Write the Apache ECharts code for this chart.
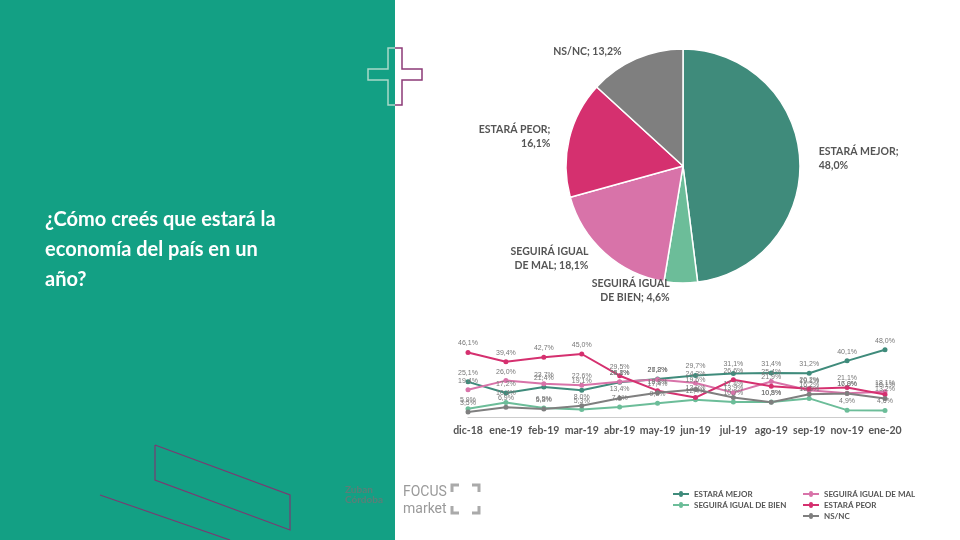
<!DOCTYPE html>
<html>
<head>
<meta charset="utf-8">
<script src="https://cdn.jsdelivr.net/npm/echarts@6/dist/echarts.min.js"></script>
<style>body{margin:0}#main{width:960px;height:540px}</style>
</head>
<body>
<div id="main"></div>
<script>
var pieNames = ['ESTARÁ MEJOR', 'SEGUIRÁ IGUAL DE BIEN', 'SEGUIRÁ IGUAL DE MAL', 'ESTARÁ PEOR', 'NS/NC'];
var pieLabels = ['ESTARÁ MEJOR;\n48,0%', 'SEGUIRÁ IGUAL\nDE BIEN; 4,6%', 'SEGUIRÁ IGUAL\nDE MAL; 18,1%', 'ESTARÁ PEOR;\n16,1%', 'NS/NC; 13,2%'];
var pieValues = [48.0, 4.6, 18.1, 16.1, 13.2];
var colors = ['#3f8b7b', '#6cbd99', '#d873a9', '#d5306f', '#7f7f7f'];

var months = ['dic-18', 'ene-19', 'feb-19', 'mar-19', 'abr-19', 'may-19', 'jun-19', 'jul-19', 'ago-19', 'sep-19', 'nov-19', 'ene-20'];
var mejor = [25.1, 17.2, 21.4, 19.1, 24.8, 27.2, 29.7, 31.1, 31.4, 31.2, 40.1, 48.0];
var igualBien = [5.9, 10.4, 6.5, 5.3, 7.1, 9.8, 12.4, 10.7, 10.8, 13.3, 4.9, 4.6];
var igualMal = [19.4, 26.0, 23.7, 22.6, 25.1, 26.8, 24.3, 17.4, 25.4, 19.1, 17.0, 18.1];
var peor = [46.1, 39.4, 42.7, 45.0, 29.5, 18.8, 13.9, 26.6, 21.9, 20.2, 21.1, 16.1];
var nsnc = [3.5, 6.9, 5.8, 8.0, 13.4, 17.4, 19.6, 13.9, 10.5, 16.2, 16.8, 13.2];
var lineData = [mejor, igualBien, igualMal, peor, nsnc];

var chart = echarts.init(document.getElementById('main'));

function fmt(p) { return p.value.toFixed(1).replace('.', ',') + '%'; }

var series = [{
  type: 'pie', center: [683, 166], radius: 117, startAngle: 90, clockwise: true,
  data: pieValues.map(function (v, i) { return { value: v, name: pieNames[i], itemStyle: { color: colors[i] } }; }),
  itemStyle: { borderColor: '#fff', borderWidth: 1.5 },
  label: {
    formatter: function (p) { return pieLabels[p.dataIndex]; },
    color: '#555', fontSize: 10.5, fontWeight: 'bold', fontFamily: 'Lato', lineHeight: 14
  },
  labelLine: { show: false, length: 8, length2: 6 },
  silent: true
}];
pieNames.forEach(function (n, i) {
  series.push({
    type: 'line', name: n, data: lineData[i], symbol: 'circle', symbolSize: 5,
    lineStyle: { color: colors[i], width: 2 }, itemStyle: { color: colors[i] },
    label: { show: true, position: 'top', formatter: fmt, fontSize: 7, color: '#777', distance: 3 }
  });
});

function legend(names, left, top) {
  return { data: names, left: left, top: top, orient: 'vertical', itemGap: 3, itemWidth: 16, itemHeight: 6,
    icon: 'path://M0,2L6,2A2,2,0,1,1,10,2L16,2L16,4L10,4A2,2,0,1,1,6,4L0,4Z',
    textStyle: { fontSize: 8, color: '#555', fontWeight: 'bold', fontFamily: 'Lato' } };
}

chart.setOption({
  animation: false,
  backgroundColor: '#fff',
  color: colors,
  graphic: [
    { type: 'rect', shape: { x: 0, y: 0, width: 395, height: 540 }, style: { fill: '#13a084' } },
    { type: 'text', left: 45, top: 205, style: { text: '¿Cómo creés que estará la\neconomía del país en un\naño?', fill: '#fff', font: 'bold 20px Lato', lineHeight: 30 } },
    { type: 'polyline', shape: { points: [[395, 48], [402, 48], [402, 69], [422, 69], [422, 80], [402, 80], [402, 105], [395, 105]] }, style: { stroke: '#8c3a77', fill: 'none', lineWidth: 1.5 } },
    { type: 'polyline', shape: { points: [[395, 48], [388, 48], [388, 69], [368, 69], [368, 80], [388, 80], [388, 105], [395, 105]] }, style: { stroke: '#a9d9c9', fill: 'none', lineWidth: 1.5 } },
    { type: 'polyline', shape: { points: [[155, 445], [290, 495], [290, 530], [155, 480], [155, 445]] }, style: { stroke: '#7a3a72', fill: 'none', lineWidth: 1.2 } },
    { type: 'polyline', shape: { points: [[100, 495], [230, 540]] }, style: { stroke: '#7a3a72', lineWidth: 1.2 } },
    { type: 'text', left: 345, top: 485, style: { text: 'Zuban\nCórdoba', fill: '#5a7f78', font: 'bold 10px Lato', lineHeight: 10 } },
    { type: 'text', left: 403, top: 484, style: { text: 'FOCUS\nmarket', fill: '#9a9a9a', font: '14px "Liberation Sans Narrow", Roboto', lineHeight: 17 } },
    { type: 'polyline', shape: { points: [[452, 492], [452, 485], [459, 485]] }, style: { stroke: '#aaa', lineWidth: 3, fill: 'none' } },
    { type: 'polyline', shape: { points: [[472, 485], [479, 485], [479, 492]] }, style: { stroke: '#aaa', lineWidth: 3, fill: 'none' } },
    { type: 'polyline', shape: { points: [[452, 506], [452, 513], [459, 513]] }, style: { stroke: '#aaa', lineWidth: 3, fill: 'none' } },
    { type: 'polyline', shape: { points: [[472, 513], [479, 513], [479, 506]] }, style: { stroke: '#aaa', lineWidth: 3, fill: 'none' } }
  ],
  grid: { left: 468, right: 75, top: 347, bottom: 123 },
  xAxis: {
    type: 'category', data: months, boundaryGap: false,
    axisLine: { lineStyle: { color: '#ccc' } }, axisTick: { show: false },
    axisLabel: { color: '#555', fontSize: 10.5, fontWeight: 'bold', fontFamily: 'Lato', margin: 8, interval: 0 }
  },
  yAxis: { type: 'value', min: 0, max: 50, show: false, splitLine: { show: false } },
  legend: [
    legend(['ESTARÁ MEJOR', 'SEGUIRÁ IGUAL DE BIEN'], 668, 485),
    legend(['SEGUIRÁ IGUAL DE MAL', 'ESTARÁ PEOR', 'NS/NC'], 798, 485)
  ],
  series: series
});
</script>
</body>
</html>
